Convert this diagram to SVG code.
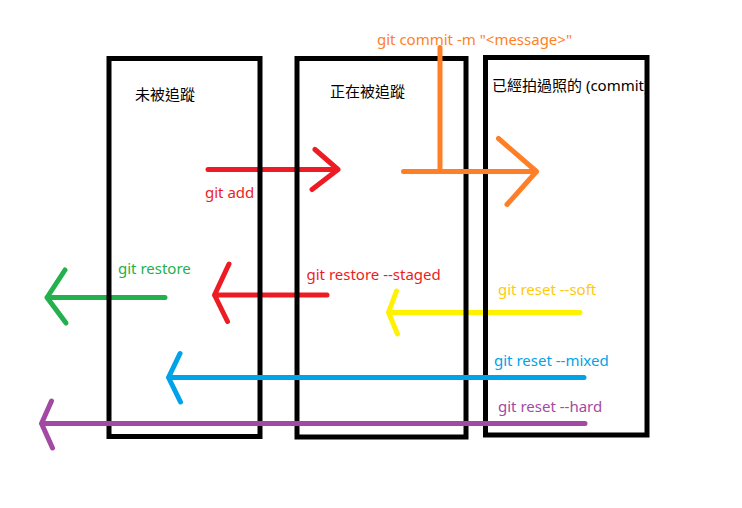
<svg xmlns="http://www.w3.org/2000/svg" width="742" height="508" viewBox="0 0 742 508">
<style>
  .box { fill: none; stroke: #000; stroke-width: 5; }
  .arr { fill: none; stroke-width: 5; stroke-linecap: round; stroke-linejoin: round; }
  .lbl { font-family: "Noto Sans", "Noto Sans CJK TC", sans-serif; font-size: 15px; }
  .title { font-family: "Noto Sans", "Noto Sans CJK TC", sans-serif; font-size: 15px; fill: #000; }
</style>
<rect width="742" height="508" fill="#fff"/>

<g id="connectors-under">
  <g id="git-add" stroke="#ed1c24" class="arr">
    <path class="arr" stroke="#ed1c24" d="M208 169.5 H338 M315 149.5 L338 169.5 L312 189.5"/>
  </g>
  <g id="git-restore">
    <path class="arr" stroke="#22b14c" d="M165 297.5 H47 M65 270 L47 297.5 L66 323"/>
  </g>
  <g id="git-restore-staged">
    <path class="arr" stroke="#ed1c24" d="M327 295 H214.5 M229 264 L214.5 295 L227.5 321.5"/>
  </g>
  <g id="git-reset-soft">
    <path class="arr" stroke="#fff200" d="M580 312.5 H388.5 M396.5 291 L388.5 312.5 L397.5 334"/>
  </g>
</g>

<g id="node-untracked">
  <rect class="box" x="109" y="58.5" width="151" height="378"/>
  <text class="title" x="135" y="100">未被追蹤</text>
</g>
<g id="node-staged">
  <rect class="box" x="297" y="58.5" width="169" height="378.5"/>
  <text class="title" x="330" y="97">正在被追蹤</text>
</g>
<g id="node-committed">
  <text class="title" x="492" y="91">已經拍過照的 (commit)</text>
  <rect class="box" x="485.5" y="57.5" width="161.5" height="377.5"/>
</g>

<g id="connectors-over">
  <g id="git-commit">
    <path class="arr" stroke="#ff7f27" d="M440 47.5 V171.5 M403.5 171.5 H536.5 M498.5 138.5 L536.5 171.5 L507 204.5"/>
  </g>
  <g id="git-reset-mixed">
    <path class="arr" stroke="#00a2e8" d="M584 377.5 H168.5 M180 353.5 L168.5 377.5 L180.5 402"/>
  </g>
  <g id="git-reset-hard">
    <path class="arr" stroke="#a349a4" d="M585 423.5 H41.5 M51.5 401 L41.5 423.5 L52.5 448"/>
  </g>
</g>

<g id="labels">
  <text class="lbl" x="377" y="45" fill="#ff7f27">git commit -m "&lt;message&gt;"</text>
  <text class="lbl" x="205" y="197.5" fill="#ed1c24">git add</text>
  <text class="lbl" x="118" y="273.5" fill="#22b14c">git restore</text>
  <text class="lbl" x="306.5" y="280" fill="#ed1c24">git restore --staged</text>
  <text class="lbl" x="498" y="295" fill="#ffc90e">git reset --soft</text>
  <text class="lbl" x="494" y="366" fill="#00a2e8">git reset --mixed</text>
  <text class="lbl" x="498" y="412" fill="#a349a4">git reset --hard</text>
</g>
</svg>
